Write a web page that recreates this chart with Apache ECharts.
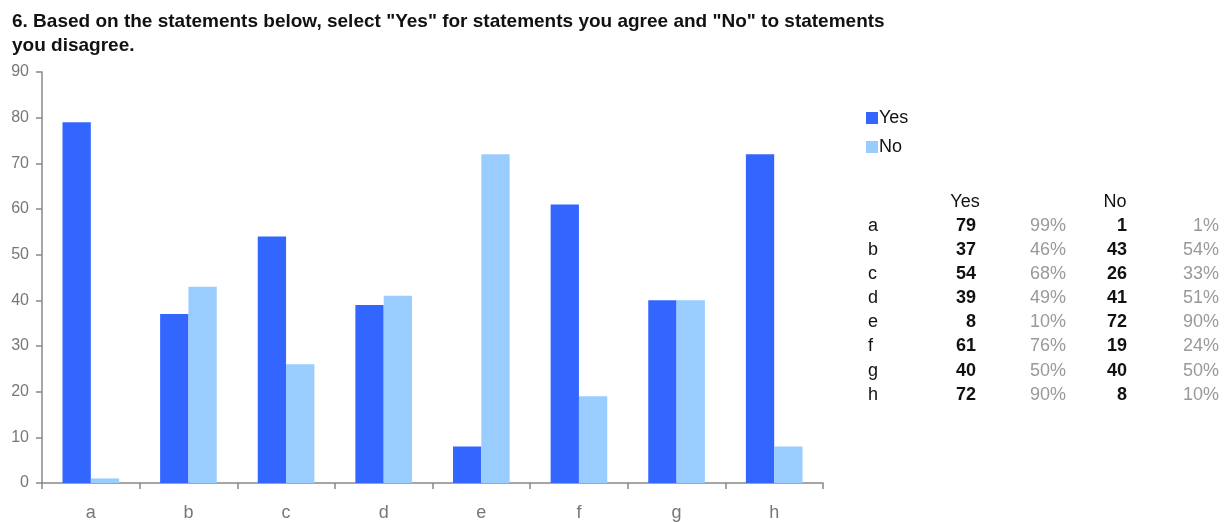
<!DOCTYPE html>
<html><head><meta charset="utf-8">
<script src="https://cdn.jsdelivr.net/npm/echarts@6/dist/echarts.min.js"></script>
<style>html,body{margin:0;padding:0;background:#fff}#c{width:1231px;height:522px}</style>
</head><body><div id="c"></div>
<script>
const categories = ['a','b','c','d','e','f','g','h'];
const yesValues = [79,37,54,39,8,61,40,72];
const noValues = [1,43,26,41,72,19,40,8];
const yesPct = ['99%','46%','68%','49%','10%','76%','50%','90%'];
const noPct = ['1%','54%','33%','51%','90%','24%','50%','10%'];
const yTicks = [0,10,20,30,40,50,60,70,80,90];
const titleText = '6. Based on the statements below, select "Yes" for statements you agree and "No" to statements\nyou disagree.';

const font = 'Arial, "Liberation Sans", sans-serif';
const graphics = [];
const rowY0 = 226, rowStep = 24.1;
graphics.push({type:'text', x: 965, y: 202, style:{text:'Yes', font:'18px '+font, fill:'#111', textAlign:'center', textVerticalAlign:'middle'}});
graphics.push({type:'text', x: 1115, y: 202, style:{text:'No', font:'18px '+font, fill:'#111', textAlign:'center', textVerticalAlign:'middle'}});
categories.forEach((c,i)=>{
  const y = rowY0 + i*rowStep;
  graphics.push({type:'text', x: 868, y: y, style:{text:c, font:'18px '+font, fill:'#111', textVerticalAlign:'middle'}});
  graphics.push({type:'text', x: 976, y: y, style:{text:String(yesValues[i]), font:'bold 18px '+font, fill:'#111', textAlign:'right', textVerticalAlign:'middle'}});
  graphics.push({type:'text', x: 1066, y: y, style:{text:yesPct[i], font:'18px '+font, fill:'#999', textAlign:'right', textVerticalAlign:'middle'}});
  graphics.push({type:'text', x: 1127, y: y, style:{text:String(noValues[i]), font:'bold 18px '+font, fill:'#111', textAlign:'right', textVerticalAlign:'middle'}});
  graphics.push({type:'text', x: 1219, y: y, style:{text:noPct[i], font:'18px '+font, fill:'#999', textAlign:'right', textVerticalAlign:'middle'}});
});

const chart = echarts.init(document.getElementById('c'));
chart.setOption({
  animation:false,
  title:{text:titleText, left:7, top:5, textStyle:{fontFamily:font, fontSize:19, fontWeight:'bold', color:'#111', lineHeight:24}},
  legend:{data:['Yes','No'], orient:'vertical', left:861, top:104, itemWidth:12, itemHeight:12, itemGap:11, icon:'rect',
    textStyle:{fontFamily:font, fontSize:18, color:'#111', padding:[0,0,0,-4]}},
  grid:{left:42, right:408, top:72, bottom:39, containLabel:false},
  xAxis:{type:'category', data:categories,
    axisLine:{lineStyle:{color:'#888', width:1.5}},
    axisTick:{show:true, alignWithLabel:false, length:6, lineStyle:{color:'#888', width:1.5}},
    axisLabel:{fontFamily:font, fontSize:18, color:'#777', margin:21}},
  yAxis:{type:'value', min:0, max:90, interval:10,
    axisLine:{show:true, lineStyle:{color:'#888', width:1.5}},
    axisTick:{show:true, length:6, lineStyle:{color:'#888', width:1.5}},
    splitLine:{show:false},
    axisLabel:{fontFamily:font, fontSize:16, color:'#777', margin:13}},
  series:[
    {name:'Yes', type:'bar', data:yesValues, itemStyle:{color:'#3366FF'}, barGap:'0%', barCategoryGap:'42%'},
    {name:'No', type:'bar', data:noValues, itemStyle:{color:'#99CCFF'}, barGap:'0%', barCategoryGap:'42%'}
  ],
  graphic: graphics
});
</script></body></html>
